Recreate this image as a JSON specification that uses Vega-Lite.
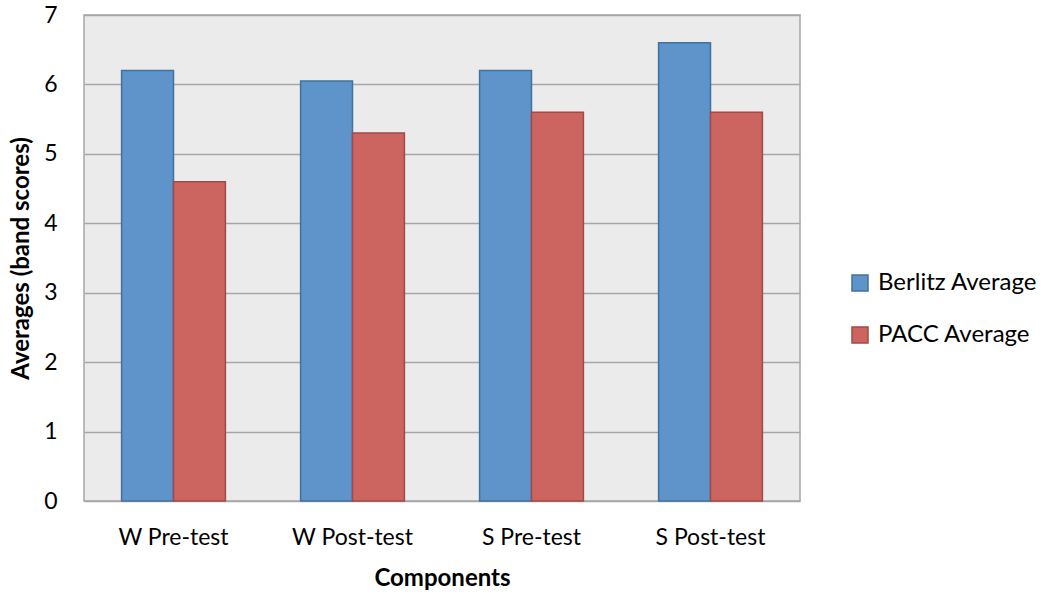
{
  "$schema": "https://vega.github.io/schema/vega-lite/v6.json",
  "width": 716,
  "height": 486,
  "autosize": {"type": "none"},
  "padding": {"left": 84, "top": 15, "right": 241, "bottom": 93},
  "background": "white",
  "data": {
    "values": [
      {"component": "W Pre-test", "series": "Berlitz Average", "value": 6.2},
      {"component": "W Pre-test", "series": "PACC Average", "value": 4.6},
      {"component": "W Post-test", "series": "Berlitz Average", "value": 6.05},
      {"component": "W Post-test", "series": "PACC Average", "value": 5.3},
      {"component": "S Pre-test", "series": "Berlitz Average", "value": 6.2},
      {"component": "S Pre-test", "series": "PACC Average", "value": 5.6},
      {"component": "S Post-test", "series": "Berlitz Average", "value": 6.6},
      {"component": "S Post-test", "series": "PACC Average", "value": 5.6}
    ]
  },
  "config": {
    "font": "Lato",
    "view": {"fill": "#EBEBEB", "stroke": "#A6A6A6", "strokeWidth": 1.5}
  },
  "mark": {"type": "bar", "strokeWidth": 1.5},
  "encoding": {
    "x": {
      "field": "component",
      "type": "nominal",
      "sort": ["W Pre-test", "W Post-test", "S Pre-test", "S Post-test"],
      "scale": {"paddingInner": 0.42, "paddingOuter": 0.21},
      "axis": {
        "title": "Components",
        "titleFontSize": 24,
        "titleFontWeight": "bold",
        "titleColor": "black",
        "titlePadding": 17,
        "labelFontSize": 23,
        "labelColor": "black",
        "labelAngle": 0,
        "labelPadding": 25,
        "ticks": false,
        "domain": false
      }
    },
    "xOffset": {
      "field": "series",
      "type": "nominal",
      "scale": {"paddingInner": 0, "paddingOuter": 0}
    },
    "y": {
      "field": "value",
      "type": "quantitative",
      "scale": {"domain": [0, 7]},
      "axis": {
        "title": "Averages (band scores)",
        "titleFontSize": 24,
        "titleFontWeight": "bold",
        "titleColor": "black",
        "titlePadding": 10,
        "labelFontSize": 23,
        "labelColor": "black",
        "labelPadding": 27,
        "tickCount": 7,
        "ticks": false,
        "domain": false,
        "grid": true,
        "gridColor": "#A6A6A6",
        "gridWidth": 1.5
      }
    },
    "color": {
      "field": "series",
      "type": "nominal",
      "scale": {"domain": ["Berlitz Average", "PACC Average"], "range": ["#5E94C9", "#CC6560"]},
      "legend": {
        "title": null,
        "orient": "none",
        "legendX": 764,
        "legendY": 256,
        "labelFontSize": 24,
        "labelColor": "black",
        "symbolType": "square",
        "symbolSize": 256,
        "symbolStrokeWidth": 1.5,
        "rowPadding": 28,
        "labelOffset": 6
      }
    },
    "stroke": {
      "field": "series",
      "type": "nominal",
      "scale": {"domain": ["Berlitz Average", "PACC Average"], "range": ["#41719C", "#A04A47"]},
      "legend": null
    }
  }
}
